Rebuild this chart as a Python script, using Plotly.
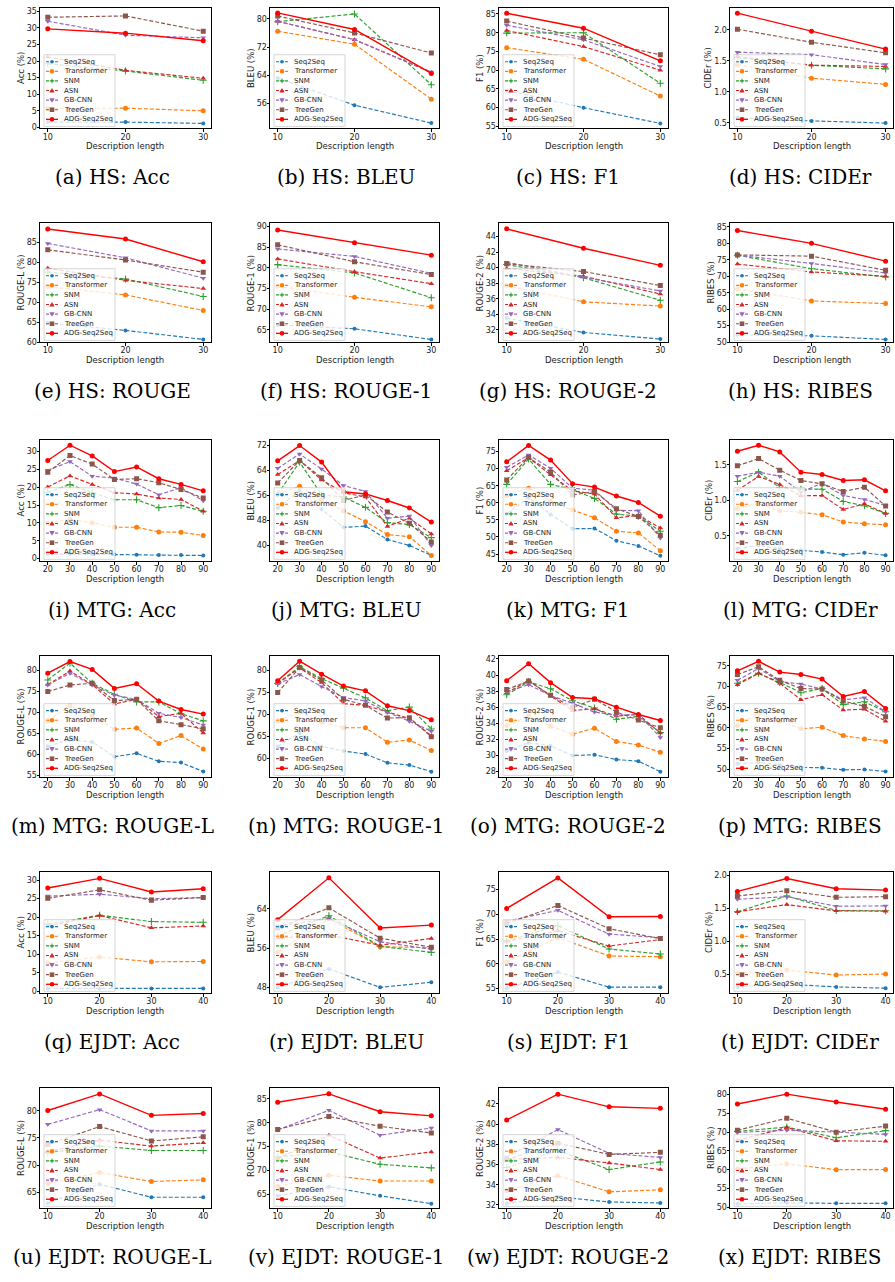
import plotly.graph_objects as go

W, H = 895, 1282

names = ["Seq2Seq", "Transformer", "SNM", "ASN", "GB-CNN", "TreeGen", "ADG-Seq2Seq"]

x_hs = [10, 20, 30]
x_mtg = [20, 30, 40, 50, 60, 70, 80, 90]
x_ejdt = [10, 20, 30, 40]

# ---------------- HS ----------------
hs_acc = [[1.6, 1.6, 1.2], [5.7, 5.8, 5.0], [19.2, 17.0, 14.2], [21.2, 17.2, 14.8],
          [32.0, 27.8, 27.0], [33.2, 33.6, 29.0], [29.7, 28.4, 26.1]]
hs_bleu = [[63.2, 55.5, 50.4], [76.5, 72.8, 57.2], [79.2, 81.4, 61.3], [79.3, 74.1, 64.8],
           [79.3, 74.1, 64.9], [80.8, 76.0, 70.3], [81.7, 77.0, 64.5]]
hs_f1 = [[64.6, 60.0, 55.8], [76.0, 72.9, 63.1], [79.9, 80.0, 66.5], [80.6, 76.3, 70.0],
         [82.0, 78.1, 71.0], [83.1, 78.6, 74.1], [85.2, 81.2, 72.5]]
hs_cider = [[0.58, 0.53, 0.495], [1.44, 1.22, 1.12], [1.55, 1.43, 1.37], [1.57, 1.43, 1.41],
            [1.64, 1.60, 1.44], [2.01, 1.80, 1.63], [2.27, 1.98, 1.69]]
hs_rougel = [[64.85, 63.0, 60.75], [74.0, 71.9, 68.0], [77.6, 75.9, 71.5], [78.6, 75.55, 73.5],
             [84.8, 81.2, 76.1], [83.2, 80.65, 77.6], [88.4, 85.9, 80.2]]
hs_rouge1 = [[66.2, 65.3, 62.7], [75.6, 72.9, 70.6], [80.8, 78.8, 72.8], [82.2, 79.1, 76.2],
             [84.6, 82.8, 78.7], [85.6, 81.5, 78.4], [89.2, 86.1, 83.1]]
hs_rouge2 = [[33.5, 31.65, 30.8], [37.7, 35.6, 35.05], [40.4, 38.7, 35.8], [39.9, 38.9, 36.6],
             [40.7, 38.75, 37.0], [40.5, 39.5, 37.7], [45.0, 42.5, 40.3]]
hs_ribes = [[52.2, 51.9, 50.8], [66.2, 62.5, 61.7], [76.4, 72.3, 69.8], [73.7, 71.3, 70.0],
            [76.4, 73.9, 71.0], [76.5, 76.1, 71.8], [83.9, 80.0, 74.6]]

# ---------------- MTG ----------------
mtg_acc = [[1.3, 1.3, 1.3, 1.2, 1.1, 1.0, 1.0, 0.9],
           [10.0, 11.0, 10.1, 8.8, 8.8, 7.5, 7.4, 6.5],
           [18.6, 20.8, 18.5, 16.5, 16.5, 14.3, 14.9, 13.3],
           [20.1, 23.2, 20.8, 18.5, 18.1, 17.0, 16.6, 13.3],
           [24.8, 27.2, 23.1, 22.6, 20.9, 17.9, 19.9, 16.2],
           [24.2, 28.9, 26.5, 22.2, 22.4, 21.3, 19.4, 17.0],
           [27.5, 31.8, 28.8, 24.4, 25.7, 22.4, 20.8, 19.0]]
mtg_bleu = [[52.0, 57.5, 51.6, 45.8, 46.2, 41.9, 40.0, 36.8],
            [56.4, 59.0, 54.6, 51.0, 47.6, 43.5, 42.8, 36.8],
            [56.5, 66.7, 56.2, 55.5, 52.2, 47.3, 46.7, 42.5],
            [62.7, 67.2, 61.0, 56.9, 55.5, 46.1, 48.7, 43.7],
            [64.7, 69.3, 64.5, 59.2, 57.3, 48.7, 49.4, 40.0],
            [60.0, 67.2, 61.7, 54.4, 56.2, 50.7, 47.1, 41.1],
            [67.1, 72.0, 66.7, 57.2, 56.5, 54.4, 52.0, 47.5]]
mtg_f1 = [[56.8, 61.5, 56.6, 52.4, 52.5, 48.9, 47.4, 44.5],
          [62.1, 64.3, 60.5, 57.9, 55.6, 51.7, 51.2, 46.0],
          [65.4, 72.8, 65.4, 63.9, 61.3, 56.7, 56.1, 51.7],
          [69.4, 73.2, 68.2, 63.5, 62.6, 55.6, 56.3, 52.6],
          [70.4, 74.0, 70.1, 64.3, 63.7, 57.8, 57.7, 49.7],
          [66.7, 73.3, 69.0, 62.3, 63.3, 58.3, 56.0, 50.5],
          [72.0, 76.8, 72.5, 65.6, 64.6, 62.0, 60.1, 56.1]]
mtg_cider = [[0.317, 0.364, 0.317, 0.298, 0.27, 0.232, 0.26, 0.223],
             [0.885, 0.955, 0.852, 0.83, 0.796, 0.693, 0.67, 0.655],
             [1.265, 1.397, 1.18, 1.157, 1.157, 0.984, 0.923, 0.815],
             [1.14, 1.336, 1.223, 1.063, 1.068, 0.871, 0.951, 0.815],
             [1.34, 1.397, 1.34, 1.115, 1.242, 1.068, 1.012, 0.927],
             [1.486, 1.589, 1.425, 1.279, 1.232, 1.124, 1.185, 0.918],
             [1.692, 1.777, 1.683, 1.397, 1.364, 1.279, 1.289, 1.134]]
mtg_rougel = [[62.0, 63.5, 63.0, 59.5, 60.3, 58.4, 58.1, 56.0],
              [68.0, 71.6, 69.1, 66.0, 66.3, 62.65, 64.5, 61.3],
              [77.7, 81.7, 76.9, 74.3, 72.5, 72.5, 69.7, 68.0],
              [76.6, 79.8, 76.6, 72.0, 73.1, 69.0, 69.8, 65.1],
              [76.5, 79.3, 76.5, 74.1, 73.1, 69.8, 68.8, 67.0],
              [74.95, 76.5, 76.9, 72.8, 73.1, 68.0, 67.1, 66.1],
              [79.3, 82.05, 80.2, 75.7, 76.8, 72.7, 70.7, 69.6]]
mtg_rouge1 = [[62.65, 65.7, 62.65, 61.6, 60.9, 58.9, 58.4, 56.9],
              [68.5, 70.5, 68.1, 66.9, 66.9, 63.6, 64.1, 61.7],
              [77.0, 80.8, 78.1, 75.9, 73.7, 70.8, 71.6, 66.6],
              [77.0, 80.5, 77.2, 72.4, 72.0, 70.5, 69.0, 65.1],
              [76.9, 79.0, 76.3, 73.8, 73.0, 70.4, 68.4, 66.1],
              [74.9, 80.6, 77.8, 73.4, 72.0, 69.1, 69.2, 64.85],
              [77.6, 82.05, 79.1, 76.4, 75.3, 71.9, 70.8, 68.7]]
mtg_rouge2 = [[30.55, 31.6, 31.2, 30.0, 30.1, 29.5, 29.3, 28.0],
              [33.7, 34.9, 33.65, 32.65, 33.4, 31.75, 31.3, 30.4],
              [37.55, 39.15, 38.3, 36.8, 35.9, 34.5, 34.85, 32.85],
              [37.8, 39.3, 37.4, 35.6, 35.8, 34.9, 35.1, 32.8],
              [37.9, 38.8, 37.45, 36.5, 35.4, 35.0, 35.1, 32.25],
              [38.2, 39.25, 37.5, 35.95, 37.0, 35.4, 34.4, 33.45],
              [39.3, 41.4, 39.05, 37.2, 37.05, 36.0, 35.1, 34.35]]
mtg_ribes = [[51.3, 51.6, 51.0, 50.4, 50.3, 49.8, 49.9, 49.4],
             [60.5, 63.5, 61.5, 59.8, 60.1, 58.1, 57.3, 56.7],
             [70.8, 73.2, 71.0, 68.5, 69.5, 65.6, 66.3, 63.9],
             [70.4, 73.2, 70.8, 66.8, 68.0, 64.3, 64.5, 61.6],
             [71.5, 74.4, 71.2, 70.6, 69.4, 66.8, 67.3, 63.9],
             [72.9, 74.8, 71.5, 69.5, 69.4, 66.5, 65.2, 62.7],
             [73.8, 76.1, 73.5, 72.9, 71.8, 67.6, 68.8, 64.7]]

# ---------------- EJDT ----------------
ejdt_acc = [[0.7, 0.7, 0.7, 0.7], [7.65, 9.2, 7.9, 8.0], [18.1, 20.5, 18.8, 18.6],
            [17.6, 20.45, 17.1, 17.6], [25.7, 26.2, 25.0, 25.3], [25.1, 27.4, 24.6, 25.3],
            [27.9, 30.5, 26.8, 27.7]]
ejdt_bleu = [[48.0, 51.8, 48.05, 49.1], [55.2, 62.0, 56.3, 56.1], [58.5, 62.6, 56.4, 55.15],
             [58.1, 58.7, 56.6, 58.0], [60.5, 62.0, 57.3, 55.8], [60.1, 64.2, 58.05, 56.2],
             [61.8, 70.3, 60.1, 60.7]]
ejdt_f1 = [[55.1, 58.35, 55.3, 55.3], [60.4, 65.3, 61.6, 61.45], [64.65, 67.7, 63.0, 62.0],
           [64.5, 66.7, 63.6, 64.9], [68.6, 70.8, 66.0, 65.3], [68.15, 71.8, 67.1, 65.1],
           [71.2, 77.35, 69.5, 69.55]]
ejdt_cider = [[0.31, 0.35, 0.31, 0.29], [0.52, 0.565, 0.49, 0.505], [1.45, 1.69, 1.47, 1.465],
              [1.45, 1.56, 1.465, 1.46], [1.64, 1.68, 1.535, 1.54], [1.69, 1.77, 1.67, 1.68],
              [1.76, 1.955, 1.80, 1.78]]
ejdt_rougel = [[63.0, 66.5, 64.1, 64.1], [66.65, 68.65, 67.0, 67.3], [72.25, 73.5, 72.7, 72.7],
               [72.5, 74.6, 73.5, 74.1], [77.5, 80.2, 76.3, 76.3], [73.8, 77.1, 74.45, 75.2],
               [80.05, 83.1, 79.15, 79.5]]
ejdt_rouge1 = [[64.7, 66.6, 64.7, 63.05], [66.7, 69.0, 67.8, 67.8], [72.85, 73.9, 71.3, 70.55],
               [72.5, 77.4, 72.6, 73.9], [78.5, 82.6, 77.4, 78.9], [78.6, 81.3, 79.25, 77.85],
               [84.3, 86.05, 82.3, 81.45]]
ejdt_rouge2 = [[32.15, 32.8, 32.3, 32.2], [33.4, 34.9, 33.3, 33.5], [35.7, 37.4, 35.5, 36.25],
               [36.5, 36.7, 36.15, 35.5], [36.75, 39.45, 37.1, 36.7], [36.5, 38.1, 37.0, 37.2],
               [40.4, 42.95, 41.7, 41.55]]
ejdt_ribes = [[50.9, 51.2, 51.05, 51.05], [60.2, 61.55, 60.0, 60.05], [70.2, 71.35, 68.5, 70.4],
              [67.8, 71.2, 67.7, 67.55], [69.9, 70.5, 70.0, 69.4], [70.5, 73.7, 70.0, 71.6],
              [77.5, 80.1, 78.0, 76.1]]

# caption, y title, x values, series, y range, y ticks
panels = [
    ("(a) HS: Acc", "Acc (%)", x_hs, hs_acc, [-0.3, 36.0], [0, 5, 10, 15, 20, 25, 30, 35]),
    ("(b) HS: BLEU", "BLEU (%)", x_hs, hs_bleu, [48.9, 83.1], [56, 64, 72, 80]),
    ("(c) HS: F1", "F1 (%)", x_hs, hs_f1, [54.47, 86.6], [55, 60, 65, 70, 75, 80, 85]),
    ("(d) HS: CIDEr", "CIDEr (%)", x_hs, hs_cider, [0.409, 2.354], [0.5, 1.0, 1.5, 2.0]),
    ("(e) HS: ROUGE", "ROUGE-L (%)", x_hs, hs_rougel, [60.0, 89.93], [60, 65, 70, 75, 80, 85]),
    ("(f) HS: ROUGE-1", "ROUGE-1 (%)", x_hs, hs_rouge1, [62.0, 90.89], [65, 70, 75, 80, 85, 90]),
    ("(g) HS: ROUGE-2", "ROUGE-2 (%)", x_hs, hs_rouge2, [30.37, 45.76], [32, 34, 36, 38, 40, 42, 44]),
    ("(h) HS: RIBES", "RIBES (%)", x_hs, hs_ribes, [49.9, 86.2], [50, 55, 60, 65, 70, 75, 80, 85]),
    ("(i) MTG: Acc", "Acc (%)", x_mtg, mtg_acc, [-0.75, 33.27], [0, 5, 10, 15, 20, 25, 30]),
    ("(j) MTG: BLEU", "BLEU (%)", x_mtg, mtg_bleu, [34.9, 73.8], [40, 48, 56, 64, 72]),
    ("(k) MTG: F1", "F1 (%)", x_mtg, mtg_f1, [42.87, 78.4], [45, 50, 55, 60, 65, 70, 75]),
    ("(l) MTG: CIDEr", "CIDEr (%)", x_mtg, mtg_cider, [0.138, 1.852], [0.5, 1.0, 1.5]),
    ("(m) MTG: ROUGE-L", "ROUGE-L (%)", x_mtg, mtg_rougel, [54.6, 83.4], [55, 60, 65, 70, 75, 80]),
    ("(n) MTG: ROUGE-1", "ROUGE-1 (%)", x_mtg, mtg_rouge1, [55.6, 83.26], [60, 65, 70, 75, 80]),
    ("(o) MTG: ROUGE-2", "ROUGE-2 (%)", x_mtg, mtg_rouge2, [27.29, 42.37], [28, 30, 32, 34, 36, 38, 40, 42]),
    ("(p) MTG: RIBES", "RIBES (%)", x_mtg, mtg_ribes, [47.98, 77.42], [50, 55, 60, 65, 70, 75]),
    ("(q) EJDT: Acc", "Acc (%)", x_ejdt, ejdt_acc, [-0.63, 32.25], [0, 5, 10, 15, 20, 25, 30]),
    ("(r) EJDT: BLEU", "BLEU (%)", x_ejdt, ejdt_bleu, [46.84, 71.5], [48, 56, 64]),
    ("(s) EJDT: F1", "F1 (%)", x_ejdt, ejdt_f1, [54.06, 78.56], [55, 60, 65, 70, 75]),
    ("(t) EJDT: CIDEr", "CIDEr (%)", x_ejdt, ejdt_cider, [0.212, 2.056], [0.5, 1.0, 1.5, 2.0]),
    ("(u) EJDT: ROUGE-L", "ROUGE-L (%)", x_ejdt, ejdt_rougel, [62.07, 84.2], [65, 70, 75, 80]),
    ("(v) EJDT: ROUGE-1", "ROUGE-1 (%)", x_ejdt, ejdt_rouge1, [62.08, 87.3], [65, 70, 75, 80, 85]),
    ("(w) EJDT: ROUGE-2", "ROUGE-2 (%)", x_ejdt, ejdt_rouge2, [31.67, 43.57], [32, 34, 36, 38, 40, 42]),
    ("(x) EJDT: RIBES", "RIBES (%)", x_ejdt, ejdt_ribes, [49.73, 81.77], [50, 55, 60, 65, 70, 75, 80]),
]

# ---------------- style ----------------
colors = ["#1f77b4", "#ff7f0e", "#2ca02c", "#d62728", "#9467bd", "#8c564b", "#ff0000"]
symbols = ["circle", "circle", "cross-thin", "triangle-up", "triangle-down", "square", "circle"]
msizes = [4, 5, 5, 5, 5, 5, 5]
dashes = ["4px,2px"] * 6 + ["solid"]
legend_kind = ["circle", "circle", "plus", "tri_up", "tri_down", "square", "circle"]

col_l = [40, 270, 499, 730]
col_r = [211, 439, 668, 893]
row_t = [7, 223, 441, 658, 875, 1092]
row_b = [128, 343, 563, 780, 997, 1213]
cap_x = [112, 346, 568, 800]

TICK_SIZE = 8
TICK_FONT = dict(family="DejaVu Sans", size=TICK_SIZE, color="#1a1a1a")
TITLE_FONT = dict(family="DejaVu Sans", size=8.5, color="#1a1a1a")
LEG_FONT = dict(family="DejaVu Sans", size=7, color="#222222")
CAP_FONT = dict(family="DejaVu Serif", size=20, color="#000000")


def px(x, y):
    return x / W, 1 - y / H


def char_w(s, size=TICK_SIZE):
    w = 0.0
    for c in s:
        w += 0.318 if c == "." else (0.36 if c == "-" else 0.636)
    return w * size


fig = go.Figure()
shapes = []
annotations = []

for k, (cap, ytitle, xs, series, yr, yt) in enumerate(panels):
    r, c = divmod(k, 4)
    L, R, T, B = col_l[c], col_r[c], row_t[r], row_b[r]
    sx = "" if k == 0 else str(k + 1)
    xaxis_name, yaxis_name = "x" + sx, "y" + sx

    for i in range(7):
        mk = dict(symbol=symbols[i], size=msizes[i], color=colors[i], line=dict(width=0))
        if symbols[i] == "cross-thin":
            mk["line"] = dict(width=1.1, color=colors[i])
        fig.add_trace(go.Scatter(
            x=xs, y=series[i], mode="lines+markers", name=names[i],
            line=dict(color=colors[i], width=1.4 if i == 6 else 1.15, dash=dashes[i]),
            marker=mk, xaxis=xaxis_name, yaxis=yaxis_name, showlegend=False))

    xpad = (xs[-1] - xs[0]) * 0.05
    is_cider = "CIDEr" in ytitle
    axis_common = dict(showline=True, mirror=True, linecolor="#000000", linewidth=1,
                       ticks="outside", ticklen=2.5, tickwidth=0.8, tickcolor="#000000",
                       ticklabelstandoff=-2,
                       showgrid=False, zeroline=False, tickfont=TICK_FONT)
    fig.layout["xaxis" + sx] = dict(domain=[L / W, R / W], anchor=yaxis_name,
                                    range=[xs[0] - xpad, xs[-1] + xpad], tickvals=xs, **axis_common)
    fig.layout["yaxis" + sx] = dict(domain=[1 - B / H, 1 - T / H], anchor=xaxis_name,
                                    range=yr, tickvals=yt, tickformat=".1f" if is_cider else "d",
                                    **axis_common)

    # axis titles
    ax_, ay_ = px((L + R) / 2, B + 17.5)
    annotations.append(dict(text="Description length", x=ax_, y=ay_, xref="paper", yref="paper",
                            showarrow=False, xanchor="center", yanchor="middle", font=TITLE_FONT))
    lab_w = max(char_w(f"{v:.1f}" if is_cider else str(v)) for v in yt)
    tx_, ty_ = px(L - 9 - lab_w, (T + B) / 2)
    annotations.append(dict(text=ytitle, x=tx_, y=ty_, xref="paper", yref="paper", textangle=-90,
                            showarrow=False, xanchor="center", yanchor="middle", font=TITLE_FONT))
    # caption
    cx_, cy_ = px(cap_x[c], B + 49)
    annotations.append(dict(text=cap, x=cx_, y=cy_, xref="paper", yref="paper", showarrow=False,
                            xanchor="center", yanchor="middle", font=CAP_FONT))

    # legend box
    box_top = B - 74
    x0, y1 = px(L + 4, box_top)
    x1, y0 = px(L + 75, B - 2)
    shapes.append(dict(type="rect", xref="paper", yref="paper", x0=x0, x1=x1, y0=y0, y1=y1,
                       fillcolor="rgba(255,255,255,0.8)", line=dict(color="#cccccc", width=0.8)))
    for i in range(7):
        ey = box_top + 7 + i * 9.65
        lx0, ly = px(L + 6, ey)
        lx1, _ = px(L + 18, ey)
        shapes.append(dict(type="line", xref="paper", yref="paper", x0=lx0, x1=lx1, y0=ly, y1=ly,
                           line=dict(color=colors[i], width=1.3 if i == 6 else 1.15,
                                     dash="solid" if i == 6 else "3px,1.5px")))
        mx = L + 12
        kind = legend_kind[i]
        rad = 1.8 if i == 0 else 2.3
        if kind in ("circle", "square"):
            a0, b1 = px(mx - rad, ey - rad)
            a1, b0 = px(mx + rad, ey + rad)
            shapes.append(dict(type="circle" if kind == "circle" else "rect", xref="paper",
                               yref="paper", x0=a0, x1=a1, y0=b0, y1=b1,
                               fillcolor=colors[i], line=dict(width=0)))
        elif kind in ("tri_up", "tri_down"):
            s = 1 if kind == "tri_up" else -1
            p1 = px(mx, ey - s * 2.6)
            p2 = px(mx - 2.6, ey + s * 2.0)
            p3 = px(mx + 2.6, ey + s * 2.0)
            path = f"M {p1[0]},{p1[1]} L {p2[0]},{p2[1]} L {p3[0]},{p3[1]} Z"
            shapes.append(dict(type="path", xref="paper", yref="paper", path=path,
                               fillcolor=colors[i], line=dict(width=0)))
        else:
            p1 = px(mx - 2.3, ey)
            p2 = px(mx + 2.3, ey)
            p3 = px(mx, ey - 2.3)
            p4 = px(mx, ey + 2.3)
            path = f"M {p1[0]},{p1[1]} L {p2[0]},{p2[1]} M {p3[0]},{p3[1]} L {p4[0]},{p4[1]}"
            shapes.append(dict(type="path", xref="paper", yref="paper", path=path,
                               line=dict(color=colors[i], width=1.0)))
        tx, ty = px(L + 22, ey)
        annotations.append(dict(text=names[i], x=tx, y=ty, xref="paper", yref="paper",
                                showarrow=False, xanchor="left", yanchor="middle", font=LEG_FONT))

fig.update_layout(width=W, height=H, margin=dict(l=0, r=0, t=0, b=0),
                  paper_bgcolor="white", plot_bgcolor="white", showlegend=False,
                  shapes=shapes, annotations=annotations)

fig.write_html("out.html")
